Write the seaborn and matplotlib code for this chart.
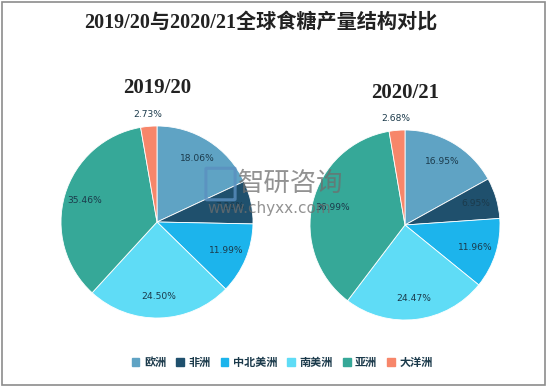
import numpy as np
import matplotlib
matplotlib.use("Agg")
import matplotlib.pyplot as plt
import matplotlib.patches as mpatches
import seaborn as sns

regions = ['欧洲', '非洲', '中北美洲', '南美洲', '亚洲', '大洋洲']
share_1920 = [18.06, 7.26, 11.99, 24.50, 35.46, 2.73]
share_2021 = [16.95, 6.95, 11.96, 24.47, 36.99, 2.68]
colors = ['#5fa3c4', '#1f506d', '#1cb4ec', '#5fdcf6', '#36a898', '#f7866a']

sns.set_theme(style='white')
plt.rcParams['font.family'] = ['Noto Sans CJK SC', 'DejaVu Sans']
serif = ['Liberation Serif', 'Noto Sans CJK SC']

W, H = 547, 387
fig = plt.figure(figsize=(W / 100, H / 100), dpi=100)
fig.patch.set_facecolor('white')
fig.patches.append(mpatches.Rectangle((0.004, 0.004), 0.992, 0.99, transform=fig.transFigure,
                                      fill=False, edgecolor='#8c8c8c', linewidth=1.2))

fig.text(0.476, 1 - 23 / H, '2019/20与2020/21全球食糖产量结构对比', ha='center', va='center',
         fontsize=14.5, fontweight='bold', family=serif, color='#222222')


def draw_pie(cx, cy, r, values, title, ty):
    ax = fig.add_axes([(cx - r) / W, (H - cy - r) / H, 2 * r / W, 2 * r / H])
    ax.pie(values, colors=colors, startangle=90, counterclock=False,
           wedgeprops=dict(edgecolor='white', linewidth=0.6))
    ax.set_xlim(-1, 1)
    ax.set_ylim(-1, 1)
    ax.set_aspect('equal')
    total = sum(values)
    start = 90.0
    for v in values:
        mid = np.deg2rad(start - v / total * 180)
        d = 1.12 if v < 5 else 0.78
        ax.text(d * np.cos(mid), d * np.sin(mid), f'{v:.2f}%', ha='center', va='center',
                fontsize=6.6, color='#1b3a4b', family=['DejaVu Sans'])
        start -= v / total * 360
    fig.text(cx / W, 1 - ty / H, title, ha='center', va='center', fontsize=15,
             fontweight='bold', family=serif, color='#222222')


draw_pie(157, 222, 96, share_1920, '2019/20', 88)
draw_pie(405, 225, 95, share_2021, '2020/21', 93)

# watermark
fig.patches.append(mpatches.FancyBboxPatch((207 / W, 1 - 199 / H), 27 / W, 30 / H,
                                           boxstyle='round,pad=0.002', transform=fig.transFigure,
                                           fill=False, edgecolor='#5a8fc0', linewidth=2.2, alpha=0.8))
fig.text(238 / W, 1 - 183 / H, '智研咨询', ha='left', va='center', fontsize=19,
         color='#6e6e6e', alpha=0.75)
fig.text(207 / W, 1 - 208 / H, 'www.chyxx.com', ha='left', va='center', fontsize=11,
         color='#6e6e6e', alpha=0.75, family=['DejaVu Sans'])

handles = [mpatches.Patch(color=c) for c in colors]
fig.legend(handles, regions, loc='center', bbox_to_anchor=(0.516, 1 - 362 / H), ncol=6,
           frameon=False, handlelength=0.7, handleheight=0.7,
           handletextpad=0.4, columnspacing=0.9,
           prop={'weight': 'bold', 'size': 8, 'family': ['Noto Sans CJK SC']},
           labelcolor='#1b3a4b')

fig.savefig('out.png', dpi=100)
